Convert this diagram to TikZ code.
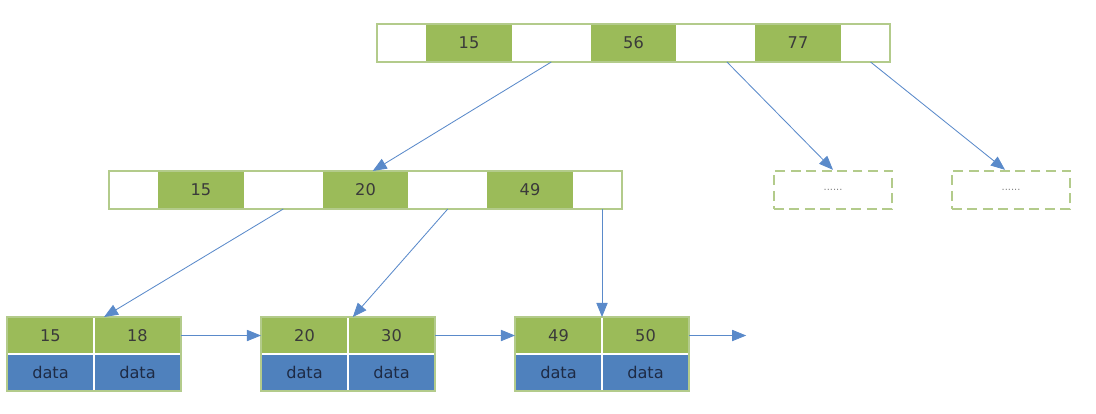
\documentclass[tikz,border=0pt]{standalone}
\usepackage{fontspec}
\setmainfont{DejaVu Sans}
\usepackage{tikz}
\usetikzlibrary{arrows.meta, positioning, calc}
\definecolor{keygreen}{HTML}{9BBB59}
\definecolor{datablue}{HTML}{4F81BD}
\definecolor{bordergreen}{HTML}{B3CB8B}
\definecolor{arrowblue}{HTML}{5A8ACA}
\definecolor{textgray}{HTML}{3A3A3A}
\definecolor{datatext}{HTML}{1E2B45}
\tikzstyle{cell} = [rectangle,
inner sep=0pt, outer sep=0pt,
minimum height=0.95cm,
draw=white, line width=1.2pt,
text=textgray,
font=\fontsize{11.5}{13}\selectfont]
\tikzstyle{keycell} = [cell, fill=keygreen, minimum width=2.175cm]
\tikzstyle{endptr} = [cell, fill=white, minimum width=1.2125cm]
\tikzstyle{midptr} = [cell, fill=white, minimum width=1.9375cm]
\tikzstyle{leafkey} = [cell, fill=keygreen, minimum width=2.175cm, minimum height=0.925cm]
\tikzstyle{leafdata} = [leafkey, fill=datablue, text=datatext]
\tikzstyle{border} = [draw=bordergreen, line width=1.4pt]
\tikzstyle{more} = [rectangle,
minimum width=2.95cm,
minimum height=0.95cm,
draw=bordergreen, line width=1.7pt,
dash pattern=on 7pt off 4pt,
text=gray, font=\fontsize{7}{8}\selectfont]
\tikzstyle{ptrarrow} = [draw=arrowblue, line width=0.6pt, -{Triangle[length=10pt,width=8pt]}]

\begin{document}
\begin{tikzpicture}
                \useasboundingbox (0,0) rectangle (27.4,-10.325);
                % root
                \node (t1) [endptr, anchor=north west] at (9.425,-0.6) {};
                \node (t2) [keycell, right=0pt of t1] {15};
                \node (t3) [midptr, right=0pt of t2] {};
                \node (t4) [keycell, right=0pt of t3] {56};
                \node (t5) [midptr, right=0pt of t4] {};
                \node (t6) [keycell, right=0pt of t5] {77};
                \node (t7) [endptr, right=0pt of t6] {};
                \draw [border] (t1.north west) rectangle (t7.south east);

                % second level
                \node (m1) [endptr, anchor=north west] at (2.725,-4.275) {};
                \node (m2) [keycell, right=0pt of m1] {15};
                \node (m3) [midptr, right=0pt of m2] {};
                \node (m4) [keycell, right=0pt of m3] {20};
                \node (m5) [midptr, right=0pt of m4] {};
                \node (m6) [keycell, right=0pt of m5] {49};
                \node (m7) [endptr, right=0pt of m6] {};
                \draw [border] (m1.north west) rectangle (m7.south east);

                \node (d1) [more] at (20.825,-4.75) {......};
                \node (d2) [more] at (25.275,-4.75) {......};

                % leaves
                \node (l1a) [leafkey, anchor=north west] at (0.175,-7.925) {15};
                \node (l1b) [leafkey, right=0pt of l1a] {18};
                \node (l1c) [leafdata, below=0pt of l1a] {data};
                \node (l1d) [leafdata, below=0pt of l1b] {data};
                \draw [border] (l1a.north west) rectangle (l1d.south east);

                \node (l2a) [leafkey, anchor=north west] at (6.525,-7.925) {20};
                \node (l2b) [leafkey, right=0pt of l2a] {30};
                \node (l2c) [leafdata, below=0pt of l2a] {data};
                \node (l2d) [leafdata, below=0pt of l2b] {data};
                \draw [border] (l2a.north west) rectangle (l2d.south east);

                \node (l3a) [leafkey, anchor=north west] at (12.875,-7.925) {49};
                \node (l3b) [leafkey, right=0pt of l3a] {50};
                \node (l3c) [leafdata, below=0pt of l3a] {data};
                \node (l3d) [leafdata, below=0pt of l3b] {data};
                \draw [border] (l3a.north west) rectangle (l3d.south east);
                \coordinate (next) at ($(l3b.east)+(1.43,0)$);

                \draw [ptrarrow] (t3.south) -- ($(m4.north)+(0.18,0)$);
                \draw [ptrarrow] ($(t5.south)+(0.28,0)$) -- (d1.north);
                \draw [ptrarrow] ($(t7.south)+(0.12,0)$) -- ($(d2.north)-(0.15,0)$);
                \draw [ptrarrow] (m3.south) -- ($(l1b.north west)+(0.25,0)$);
                \draw [ptrarrow] (m5.south) -- ($(l2b.north west)+(0.12,0)$);
                \draw [ptrarrow] (l3b.north west |- m7.south) -- (l3b.north west);
                \draw [ptrarrow] (l1b.east) -- (l2a.west);
                \draw [ptrarrow] (l2b.east) -- (l3a.west);
                \draw [ptrarrow] (l3b.east) -- (next);
            \end{tikzpicture}
\end{document}
